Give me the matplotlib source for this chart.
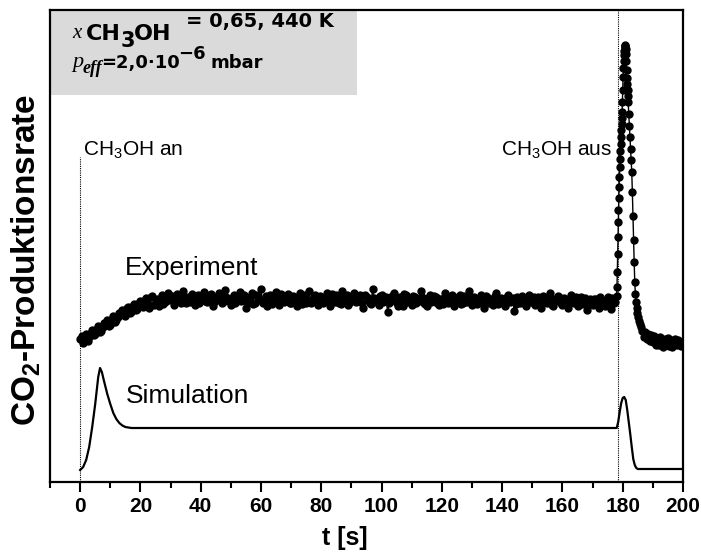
#!/usr/bin/env python3
# CO2 production rate: experiment vs simulation for CH3OH on/off pulse

import numpy as np
import matplotlib
matplotlib.use("Agg")
import matplotlib.pyplot as plt
from matplotlib.patches import Rectangle
from matplotlib.ticker import MultipleLocator

plt.rcParams['font.family'] = ['Liberation Sans', 'DejaVu Sans']

W, H = 701, 552

# Experiment, flat part, samples at whole seconds (t = 0 .. 177), arbitrary units
exp_a = [
    143, 139, 148, 145, 152, 148, 156, 151, 159, 162,
    157, 166, 162, 169, 172, 166, 175, 170, 178, 173,
    181, 175, 184, 174, 186, 179, 176, 187, 180, 189,
    183, 177, 188, 182, 191, 179, 185, 188, 177, 187,
    183, 190, 180, 187, 176, 185, 189, 179, 192, 183,
    177, 187, 181, 190, 184, 174, 183, 189, 179, 185,
    193, 181, 176, 187, 183, 190, 177, 185, 181, 188,
    179, 185, 176, 189, 183, 179, 191, 181, 187, 177,
    185, 181, 189, 176, 183, 187, 179, 191, 185, 177,
    183, 189, 181, 187, 174, 185, 179, 193, 183, 177,
    187, 181, 170, 183, 189, 179, 185, 176, 187, 181,
    177, 185, 183, 191, 179, 176, 187, 181, 185, 177,
    183, 189, 179, 185, 176, 181, 187, 179, 183, 191,
    177, 183, 179, 187, 174, 185, 181, 177, 189, 179,
    183, 176, 187, 181, 171, 185, 179, 183, 176, 187,
    181, 177, 185, 174, 183, 179, 189, 176, 181, 185,
    177, 183, 174, 187, 179, 176, 185, 181, 172, 183,
    177, 183, 174, 181, 176, 185, 173, 179,
]
# samples at half seconds (t = 0.5 .. 177.5)
exp_b = [
    146, 144, 141, 149, 147, 153, 150, 155, 158, 156,
    163, 160, 165, 168, 171, 174, 169, 176, 172, 179,
    176, 182, 178, 185, 177, 183, 181, 178, 186, 182,
    186, 180, 184, 179, 186, 183, 180, 186, 182, 179,
    186, 181, 184, 188, 180, 182, 186, 180, 185, 181,
    184, 179, 186, 181, 187, 180, 185, 178, 187, 182,
    179, 186, 183, 178, 186, 181, 188, 180, 185, 179,
    186, 181, 184, 178, 187, 182, 179, 185, 180, 186,
    179, 185, 182, 188, 180, 184, 178, 183, 187, 180,
    186, 180, 184, 179, 187, 182, 178, 184, 180, 186,
    180, 185, 179, 186, 181, 176, 184, 188, 180, 184,
    186, 179, 181, 185, 178, 184, 180, 186, 179, 183,
    178, 184, 181, 187, 180, 185, 178, 186, 180, 184,
    185, 178, 184, 180, 186, 179, 183, 186, 178, 184,
    179, 185, 180, 184, 178, 182, 186, 178, 184, 180,
    185, 181, 178, 186, 180, 184, 177, 183, 186, 179,
    184, 178, 182, 180, 185, 182, 178, 184, 179, 181,
    183, 178, 185, 180, 182, 178, 184, 180,
]

# Experiment, desorption peak after CH3OH off and tail
t_exp_peak = [
    178.0, 178.1, 178.2, 178.3, 178.4, 178.5, 178.6, 178.7, 178.8, 178.9,
    179.0, 179.1, 179.2, 179.3, 179.4, 179.5, 179.6, 179.7, 179.8, 179.9,
    180.0, 180.1, 180.2, 180.3, 180.4, 180.5, 180.6, 180.7, 180.8, 180.9,
    181.0, 181.1, 181.2, 181.3, 181.4, 181.5, 181.6, 181.7, 181.8, 182.0,
    182.2, 182.4, 182.6, 182.8, 183.0, 183.2, 183.4, 183.6, 183.8, 184.0,
    184.2, 184.4, 184.6, 184.8, 185.0, 185.3, 185.6, 186.0,
    186.5, 187.0, 187.5, 188.0, 188.5, 189.0, 189.5, 190.0, 190.5, 191.0,
    191.5, 192.0, 192.5, 193.0, 193.5, 194.0, 194.5, 195.0, 195.5, 196.0,
    196.5, 197.0, 197.5, 198.0, 198.5, 199.0, 199.5, 200.0,
]
exp_peak = [
    186, 195, 210, 228, 245, 260, 272, 284, 295, 305,
    315, 323, 331, 338, 345, 352, 358, 364, 370, 380,
    392, 405, 414, 421, 427, 431, 434, 436, 437, 436,
    433, 428, 421, 412, 404, 398, 392, 386, 380, 368,
    356, 345, 333, 322, 310, 290, 266, 242, 220, 200,
    188, 180, 174, 169, 165, 161, 158, 155,
    151, 145, 150, 143, 148, 141, 147, 140, 146, 137,
    144, 137, 145, 140, 135, 143, 138, 144, 136, 142,
    135, 141, 143, 137, 142, 139, 136, 140,
]

# Simulation
t_sim = [0, 1, 2, 3, 4, 5, 6, 6.6, 7.2, 8, 9, 10, 11, 12, 13, 14, 15, 17, 20,
         100, 178, 178.5, 179, 179.5, 180, 180.5, 181, 181.5, 182, 182.5,
         183, 183.5, 184, 184.5, 185, 186, 200]
sim = [12, 15, 22, 35, 55, 78, 105, 114, 110, 100, 88, 78, 69, 63, 59, 56.5, 55, 54, 54,
       54, 54, 60, 70, 79, 84, 85, 82, 72, 60, 48,
       35, 23, 17, 14, 13, 13, 13]

t_on = 0
t_off = 178.4

t_a = np.arange(len(exp_a))
t_b = np.arange(len(exp_b)) + 0.5
t_flat = np.concatenate([t_a, t_b])
y_flat = np.concatenate([exp_a, exp_b])
order = np.argsort(t_flat)
t_exp = np.concatenate([t_flat[order], t_exp_peak])
y_exp = np.concatenate([y_flat[order], exp_peak])

fig = plt.figure(figsize=(W / 100, H / 100), dpi=100)
ax = fig.add_axes([50 / W, 1 - 482 / H, 633 / W, 472 / H])

ax.plot(t_exp, y_exp, color='black', lw=1.0, marker='o', ms=5, mec='black', mfc='black')
ax.plot(t_sim, sim, color='black', lw=1.6)

# on / off markers
ax.plot([t_on, t_on], [0, 325], color='black', lw=0.8, ls=(0, (1, 1)))
ax.axvline(t_off, color='black', lw=0.8, ls=(0, (1, 1)))
ax.text(1, 332, r"CH$_\mathregular{3}$OH an", fontsize=15, va='center', ha='left')
ax.text(176.5, 332, r"CH$_\mathregular{3}$OH aus", fontsize=15, va='center', ha='right')

ax.text(15, 214, "Experiment", fontsize=19, va='center', ha='left')
ax.text(15, 86, "Simulation", fontsize=19, va='center', ha='left')

# condition box
ax.add_patch(Rectangle((0, 0.82), 0.485, 0.18, transform=ax.transAxes,
                       facecolor='#dadada', edgecolor='none', zorder=0))


def ptext(px, py, s, **kw):
    fig.text(px / W, 1 - py / H, s, va='baseline', ha='left', **kw)


bold = dict(family='DejaVu Sans', fontweight='bold')
serif_it = dict(family='Liberation Serif', style='italic')
ptext(72, 38, "x", fontsize=15, **serif_it)
ptext(86, 40, "CH", fontsize=16, **bold)
ptext(121, 47, "3", fontsize=15, **bold)
ptext(134, 40, "OH", fontsize=16, **bold)
ptext(186, 27, "= 0,65, 440 K", fontsize=14, **bold)
ptext(72, 67, "p", fontsize=16, **serif_it)
ptext(83, 73, "eff", fontsize=13, fontweight='bold', **serif_it)
ptext(101, 68, "=2,0·10", fontsize=13, **bold)
ptext(178, 59, "\u22126", fontsize=13, **bold)
ptext(210, 68, "mbar", fontsize=13, **bold)

ax.set_xlim(-10, 200)
ax.set_ylim(0, 472)
ax.set_xticks(range(0, 201, 20))
ax.xaxis.set_minor_locator(MultipleLocator(10))
ax.tick_params(axis='x', which='major', direction='out', length=7, width=1.5, labelsize=15)
ax.tick_params(axis='x', which='minor', direction='out', length=4, width=1.5)
ax.set_yticks([])
for lab in ax.get_xticklabels():
    lab.set_fontweight('bold')
for sp in ax.spines.values():
    sp.set_linewidth(1.6)

ax.set_xlabel("t [s]", fontsize=18, fontweight='bold')
ax.xaxis.set_label_coords((345 - 50) / 633, -(526 - 482) / 472)
ax.set_ylabel(r"CO$_\mathregular{2}$-Produktionsrate", fontsize=24, fontweight='bold')
ax.yaxis.set_label_coords(-0.011, 1 - (260 - 10) / 472)

fig.savefig("out.png", dpi=100)
